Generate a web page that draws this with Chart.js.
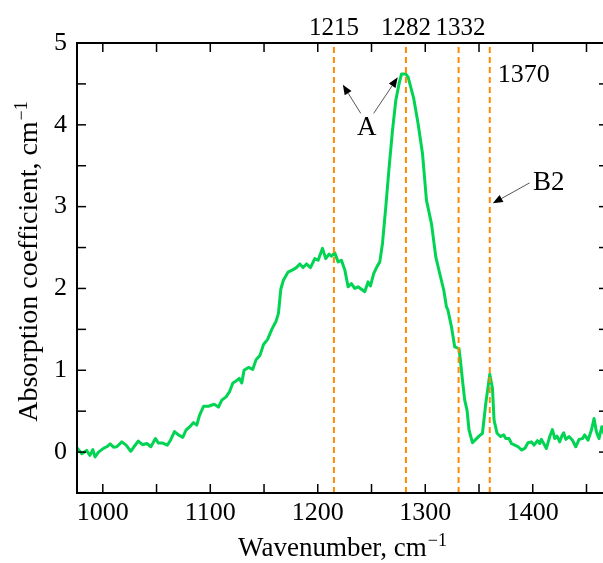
<!DOCTYPE html>
<html>
  <head>
    <title>Absorption spectrum</title>
    <script src="https://cdn.jsdelivr.net/npm/chart.js"></script>
    <style>
      body { margin: 0; overflow: hidden; background: #fff; }
    </style>
  </head>

  <body>
    <canvas id="myChart" width="612" height="563"></canvas>

    <script>
      // spectrum
      var wavenumber = [
        976, 980.5, 985, 988, 990.7, 992.8, 996, 1000.6, 1003.7, 1006.8, 1010, 1013, 1017.7, 1021.7,
        1026, 1029, 1033, 1037, 1041, 1044.7, 1049, 1051.8, 1055.8, 1060, 1063, 1066.7, 1070.4, 1074.4,
        1077.5, 1081, 1084.3, 1087.4, 1090, 1093.7, 1098.3, 1103.6, 1107.6, 1110.7, 1114.7, 1117.8,
        1121, 1124, 1127, 1129.3, 1131.4, 1135.5, 1139.5, 1142.6, 1146.3, 1149.5, 1153.2, 1157.2,
        1161.2, 1163.4, 1165.6, 1168, 1172.4, 1177, 1180.2, 1183.3, 1186.3, 1189.5, 1193.2, 1197.2,
        1200.3, 1204.4, 1207.4, 1210.5, 1212.7, 1215.8, 1218.9, 1222, 1225.1, 1228.2, 1231.3, 1234.4,
        1237.5, 1240.6, 1243.7, 1246.8, 1249, 1252, 1255.2, 1257.7, 1260.2, 1263.3, 1266.4, 1269.5,
        1272.6, 1275.6, 1277.9, 1281.9, 1284, 1286.5, 1289.3, 1293.3, 1297.4, 1301.1, 1305.8, 1309.8,
        1313.5, 1317.2, 1319.7, 1321, 1324.4, 1327.4, 1331.4, 1332.7, 1334.6, 1336.7, 1338.9, 1340.7,
        1343.9, 1347, 1350, 1353.2, 1356.3, 1360, 1362.5, 1364, 1366.8, 1369.9, 1373, 1374.9, 1378,
        1380.2, 1383.3, 1386.4, 1389.5, 1392.6, 1395.6, 1398.8, 1401.2, 1404.4, 1406.5, 1408, 1410.2,
        1412.7, 1415.8, 1418.3, 1420.5, 1422.6, 1425.1, 1427, 1428.8, 1430.7, 1433.8, 1436.9, 1440,
        1443.1, 1446.2, 1448.4, 1451.4, 1454.6, 1457, 1459.2, 1461.6, 1464.2, 1467
      ];
      var absorption = [
        0.05, -0.02, 0.02, -0.04, 0.03, -0.06, 0.0, 0.045, 0.065, 0.1, 0.06, 0.065, 0.125, 0.085,
        0.01, 0.065, 0.135, 0.09, 0.105, 0.065, 0.165, 0.11, 0.11, 0.085, 0.145, 0.25, 0.21, 0.18,
        0.27, 0.31, 0.36, 0.33, 0.45, 0.56, 0.56, 0.585, 0.55, 0.635, 0.675, 0.735,
        0.845, 0.87, 0.9, 0.845, 1.0, 1.035, 1.01, 1.13, 1.185, 1.315, 1.375, 1.5,
        1.6, 1.695, 1.99, 2.1, 2.2, 2.23, 2.255, 2.3, 2.255, 2.3, 2.255, 2.365,
        2.345, 2.49, 2.365, 2.42, 2.395, 2.435, 2.325, 2.345, 2.23, 2.02, 2.06, 2.0,
        2.02, 1.99, 1.96, 2.08, 2.03, 2.18, 2.27, 2.325, 2.55, 3.0, 3.485, 3.93,
        4.3, 4.5, 4.62, 4.62, 4.585, 4.46, 4.32, 4.015, 3.65, 3.08, 2.79, 2.385,
        2.18, 1.98, 1.775, 1.74, 1.53, 1.285, 1.265, 1.12, 0.88, 0.635, 0.51, 0.27,
        0.115, 0.155, 0.195, 0.23, 0.595, 0.95, 0.78, 0.39, 0.23, 0.19, 0.21, 0.165, 0.165,
        0.105, 0.085, 0.065, 0.025, 0.045, 0.115, 0.125, 0.085, 0.14, 0.105, 0.155, 0.105,
        0.045, 0.19, 0.275, 0.165, 0.195, 0.125, 0.195, 0.235, 0.155, 0.19, 0.145, 0.065,
        0.155, 0.165, 0.21, 0.145, 0.27, 0.41, 0.25, 0.165, 0.31, 0.2
      ];

      // dashed marker lines and their labels
      var markerPositions = [1215, 1282, 1331, 1360];
      var markerLabels = ["1215", "1282", "1332", "1370"];

      // axes
      var xMin = 976, xMax = 1470;
      var yMin = -0.5, yMax = 5;
      var xTickLabels = [1000, 1100, 1200, 1300, 1400];
      var yTickLabels = [0, 1, 2, 3, 4, 5];
      var xTickMarks = [1000, 1050, 1100, 1150, 1200, 1250, 1300, 1350, 1400, 1450];
      var yTickMarks = [0, 0.5, 1, 1.5, 2, 2.5, 3, 3.5, 4, 4.5];

      // annotations, in data units
      var textNotes = [
        { text: "A", x: 1245.6, y: 3.96 },
        { text: "B2", x: 1414.9, y: 3.29 }
      ];
      var arrowNotes = [
        [1240, 4.14, 1223.3, 4.49],
        [1252, 4.14, 1274.4, 4.58],
        [1397, 3.29, 1362.8, 3.04]
      ];

      var serif = "'Liberation Serif', 'Times New Roman', serif";
      var green = "#00d452";
      var orange = "#ff8a00";

      var spectrum = wavenumber.map(function (w, i) {
        return { x: w, y: absorption[i] };
      });

      var datasets = markerPositions.map(function (m) {
        return {
          data: [{ x: m, y: yMin }, { x: m, y: yMax }],
          borderColor: orange,
          borderWidth: 2,
          borderDash: [6, 4],
          pointRadius: 0,
          order: 0
        };
      });
      datasets.push({
        data: spectrum,
        borderColor: green,
        borderWidth: 3,
        borderJoinStyle: "round",
        pointRadius: 0,
        tension: 0,
        order: 1
      });

      function line(ctx, x1, y1, x2, y2) {
        ctx.beginPath();
        ctx.moveTo(x1, y1);
        ctx.lineTo(x2, y2);
        ctx.stroke();
      }

      function arrow(ctx, x1, y1, x2, y2) {
        var ang = Math.atan2(y2 - y1, x2 - x1);
        var len = 10, half = 4;
        var bx = x2 - len * Math.cos(ang), by = y2 - len * Math.sin(ang);
        ctx.strokeStyle = "#555";
        ctx.lineWidth = 1;
        line(ctx, x1, y1, bx, by);
        ctx.fillStyle = "#000";
        ctx.beginPath();
        ctx.moveTo(x2, y2);
        ctx.lineTo(bx + half * Math.sin(ang), by - half * Math.cos(ang));
        ctx.lineTo(bx - half * Math.sin(ang), by + half * Math.cos(ang));
        ctx.closePath();
        ctx.fill();
      }

      // text with a "−1" superscript
      function unitText(ctx, main, sup, x, y, size) {
        ctx.font = size + "px " + serif;
        var w1 = ctx.measureText(main).width;
        ctx.font = "18px " + serif;
        var w2 = ctx.measureText(sup).width;
        var start = x - (w1 + w2) / 2;
        ctx.textAlign = "left";
        ctx.textBaseline = "alphabetic";
        ctx.font = size + "px " + serif;
        ctx.fillText(main, start, y);
        ctx.font = "18px " + serif;
        ctx.fillText(sup, start + w1 + 1, y - 10);
      }

      var framePlugin = {
        id: "frame",
        afterDraw: function (chart) {
          var ctx = chart.ctx, a = chart.chartArea;
          var xs = chart.scales.x, ys = chart.scales.y;
          ctx.save();

          ctx.strokeStyle = "#000";
          ctx.lineWidth = 2;
          ctx.strokeRect(a.left, a.top, a.right - a.left, a.bottom - a.top);

          ctx.lineWidth = 1.5;
          xTickMarks.forEach(function (v) {
            var p = xs.getPixelForValue(v);
            line(ctx, p, a.bottom, p, a.bottom - 9);
            line(ctx, p, a.top, p, a.top + 9);
          });
          yTickMarks.forEach(function (v) {
            var p = ys.getPixelForValue(v);
            line(ctx, a.left, p, a.left + 9, p);
            line(ctx, a.right, p, a.right - 9, p);
          });

          // marker labels
          ctx.fillStyle = "#000";
          ctx.textBaseline = "alphabetic";
          markerPositions.forEach(function (m, i) {
            var p = xs.getPixelForValue(m);
            if (i < markerPositions.length - 1) {
              ctx.font = "25px " + serif;
              ctx.textAlign = "center";
              ctx.fillText(markerLabels[i], p + (i === 2 ? 2 : 0), a.top - 8);
            } else {
              ctx.font = "26px " + serif;
              ctx.textAlign = "left";
              ctx.fillText(markerLabels[i], p + 8, ys.getPixelForValue(4.52));
            }
          });

          // annotations
          textNotes.forEach(function (n) {
            ctx.font = "27px " + serif;
            ctx.textAlign = "center";
            ctx.textBaseline = "middle";
            ctx.fillStyle = "#000";
            ctx.fillText(n.text, xs.getPixelForValue(n.x), ys.getPixelForValue(n.y));
          });
          arrowNotes.forEach(function (r) {
            arrow(ctx, xs.getPixelForValue(r[0]), ys.getPixelForValue(r[1]),
              xs.getPixelForValue(r[2]), ys.getPixelForValue(r[3]));
          });

          // axis titles
          ctx.fillStyle = "#000";
          unitText(ctx, "Wavenumber, cm", "\u22121", (a.left + 603) / 2 + 2, 556, 27);
          ctx.translate(37, 262);
          ctx.rotate(-Math.PI / 2);
          unitText(ctx, "Absorption coefficient, cm", "\u22121", 0, 0, 28);

          ctx.restore();
        }
      };

      var ctx = document.getElementById("myChart").getContext("2d");
      var chart = new Chart(ctx, {
        type: "line",
        data: { datasets: datasets },
        options: {
          responsive: false,
          animation: false,
          devicePixelRatio: 1,
          layout: { padding: { top: 43, right: 4, left: 0, bottom: 0 } },
          plugins: { legend: { display: false }, tooltip: { enabled: false } },
          scales: {
            x: {
              type: "linear",
              min: xMin,
              max: xMax,
              grid: { display: false, drawTicks: false },
              border: { display: false },
              afterBuildTicks: function (s) {
                s.ticks = xTickLabels.map(function (v) { return { value: v }; });
              },
              afterFit: function (s) { s.height = 70; },
              ticks: {
                color: "#000",
                font: { family: serif, size: 26 },
                padding: 5,
                maxRotation: 0,
                callback: function (v) { return String(v); }
              }
            },
            y: {
              type: "linear",
              min: yMin,
              max: yMax,
              grid: { display: false, drawTicks: false },
              border: { display: false },
              afterBuildTicks: function (s) {
                s.ticks = yTickLabels.map(function (v) { return { value: v }; });
              },
              afterFit: function (s) { s.width = 77; },
              ticks: {
                color: "#000",
                font: { family: serif, size: 26 },
                padding: 10,
                callback: function (v) { return String(v); }
              }
            }
          }
        },
        plugins: [framePlugin]
      });
    </script>
  </body>
</html>
